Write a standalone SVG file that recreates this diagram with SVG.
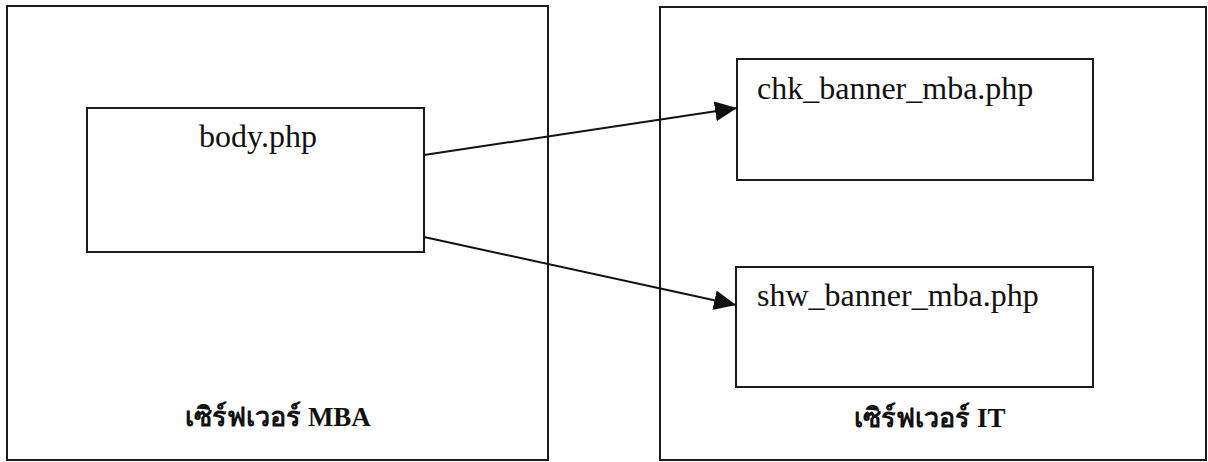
<svg xmlns="http://www.w3.org/2000/svg" width="1208" height="462" viewBox="0 0 1208 462">
  <style>
    .frame { fill: none; stroke: #1a1a1a; stroke-width: 2; }
    .box { fill: #ffffff; stroke: #1a1a1a; stroke-width: 2; }
    .file { font-family: "Liberation Serif", "Times New Roman", serif; font-size: 32px; fill: #111111; }
    .server { font-family: "Liberation Serif", "DejaVu Serif", "Noto Sans", serif; font-size: 27px; font-weight: bold; fill: #111111; text-anchor: middle; }
    .link { fill: none; stroke: #111111; stroke-width: 2; }
  </style>
  <defs>
    <marker id="arrow" viewBox="0 0 22 20" refX="22" refY="10" markerWidth="22" markerHeight="20" markerUnits="userSpaceOnUse" orient="auto">
      <path d="M0,0 L22,10 L0,20 Z" fill="#111111"/>
    </marker>
  </defs>
  <rect width="1208" height="462" fill="#ffffff"/>

  <!-- MBA server -->
  <g id="server-mba">
    <rect class="frame" x="7" y="6" width="541" height="454"/>
    <text class="server" x="278" y="426">เซิร์ฟเวอร์ MBA</text>
  </g>

  <!-- IT server -->
  <g id="server-it">
    <rect class="frame" x="660" y="7" width="546" height="453"/>
    <text class="server" x="930" y="427">เซิร์ฟเวอร์ IT</text>
  </g>

  <g id="body-php">
    <rect class="box" x="87" y="108" width="337" height="144"/>
    <text class="file" x="258" y="147" text-anchor="middle">body.php</text>
  </g>

  <g id="chk-banner">
    <rect class="box" x="737" y="59" width="356" height="121"/>
    <text class="file" x="757" y="99">chk_banner_mba.php</text>
  </g>

  <g id="shw-banner">
    <rect class="box" x="736" y="267" width="357" height="120"/>
    <text class="file" x="757" y="306">shw_banner_mba.php</text>
  </g>

  <g id="connectors">
    <line class="link" x1="424" y1="155" x2="737" y2="108" marker-end="url(#arrow)"/>
    <line class="link" x1="424" y1="237" x2="736" y2="305" marker-end="url(#arrow)"/>
  </g>
</svg>
